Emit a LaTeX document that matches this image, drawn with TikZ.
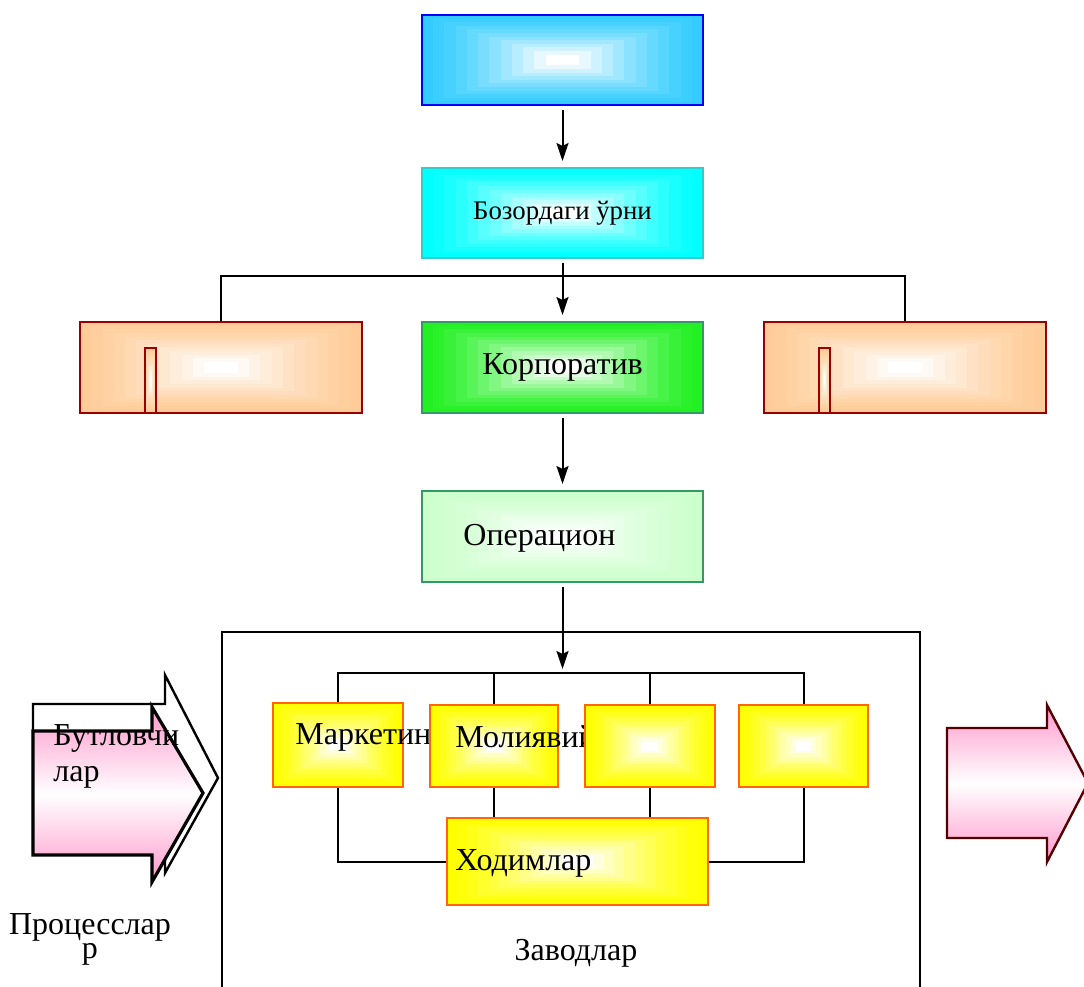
\documentclass[tikz,border=0pt]{standalone}
\usepackage{fontspec}
\setmainfont{Liberation Serif}
\usetikzlibrary{calc,arrows.meta}

\definecolor{skyfill}{HTML}{33CCFF}
\definecolor{cyanfill}{HTML}{00FFFF}
\definecolor{cyanline}{HTML}{33CCCC}
\definecolor{peach}{HTML}{FFCC99}
\definecolor{brick}{HTML}{990000}
\definecolor{limefill}{HTML}{22F022}
\definecolor{mintfill}{HTML}{CCFFCC}
\definecolor{greenline}{HTML}{339966}
\definecolor{sunfill}{HTML}{FFFF00}
\definecolor{sunline}{HTML}{FF6600}
\definecolor{rose}{HTML}{FF99CC}
\definecolor{wine}{HTML}{550000}

\tikzset{
  glow/.style={fill=#1, path picture={
      \foreach \k in {1,...,11}{
        \pgfmathtruncatemacro{\mix}{100-100*(\k/11)^1.4}
        \fill[#1!\mix!white]
          ($(path picture bounding box.south west)!{0.04*\k}!(path picture bounding box.north east)$)
          rectangle
          ($(path picture bounding box.north east)!{0.04*\k}!(path picture bounding box.south west)$);
      }}},
  box/.style={draw, line width=1pt, inner sep=0pt},
  link/.style={line width=1pt},
  arr/.style={link, shorten <=2pt, shorten >=3pt,
    -{Stealth[length=9pt,width=6pt,inset=1.5pt]}},
  big/.style={font=\fontsize{16}{18}\selectfont, inner sep=0pt},
}

\begin{document}
\begin{tikzpicture}[x=0.5pt,y=-0.5pt]
  \useasboundingbox (0,0) rectangle (1084,987);

  \node[box, draw=blue, glow=skyfill, minimum width=140.5pt, minimum height=45pt] (top) at (562.5,60) {};
  \node[box, draw=cyanline, glow=cyanfill, minimum width=140.5pt, minimum height=45pt,
    font=\fontsize{13.4}{15}\selectfont] (place) at (562.5,213) {Бозордаги ўрни};
  \node[box, draw=brick, glow=peach, minimum width=141pt, minimum height=45.5pt] (lbox) at (221,367.5) {};
  \node[box, draw=brick, glow=peach, minimum width=5.5pt, minimum height=32.5pt] (lmark) at (150.5,380.5) {};
  \node[box, draw=brick, glow=peach, minimum width=141pt, minimum height=45.5pt] (rbox) at (905,367.5) {};
  \node[box, draw=brick, glow=peach, minimum width=5.5pt, minimum height=32.5pt] (rmark) at (824.5,380.5) {};
  \node[box, draw=greenline, glow=limefill, minimum width=140.5pt, minimum height=45.5pt, big] (corp) at (562.5,367.5) {Корпоратив};
  \node[box, draw=greenline, glow=mintfill, minimum width=140.5pt, minimum height=45.5pt] (oper) at (562.5,536.5) {};
  \node[big, anchor=west] (opertxt) at (463,538) {Операцион};

  \coordinate (bus) at (562.5,276);
  \draw[arr] (top) -- (place);
  \draw[arr] (place) -- (corp);
  \draw[link] (lbox.north) -- (lbox.north |- bus) -- (rbox.north |- bus) -- (rbox.north);
  \draw[arr] (corp) -- (oper);

  \node[draw, line width=1pt, minimum width=349pt, minimum height=204pt] (plant) at (571,836) {};
  \node[font=\fontsize{16}{18}\selectfont] (planttxt) at (576,953) {Заводлар};

  \node[box, draw=sunline, glow=sunfill, minimum width=65pt, minimum height=42pt] (mark) at (338,745) {};
  \node[big, anchor=west] (marktxt) at (295,737) {Маркетин};
  \node[box, draw=sunline, glow=sunfill, minimum width=64pt, minimum height=41pt] (fin) at (494,746) {};
  \node[big, anchor=west] (fintxt) at (455,737) {Молиявий};
  \node[box, draw=sunline, glow=sunfill, minimum width=65pt, minimum height=41pt] (tech) at (650,746) {};
  \node[box, draw=sunline, glow=sunfill, minimum width=64.5pt, minimum height=41pt] (sale) at (803.5,746) {};
  \node[box, draw=sunline, glow=sunfill, minimum width=130.5pt, minimum height=43.5pt] (staff) at (577.5,861.5) {};
  \node[big, anchor=west] (stafftxt) at (455,863) {Ходимлар};

  \coordinate (hub) at (562.5,673);
  \draw[arr, shorten >=2pt] (oper) -- (hub);
  \draw[link] (mark.north) -- (mark.north |- hub) -- (sale.north |- hub) -- (sale.north);
  \draw[link] (fin.north) -- (fin.north |- hub);
  \draw[link] (tech.north) -- (tech.north |- hub);
  \draw[link] (mark.south) |- (staff.west);
  \draw[link] (sale.south) |- (staff.east);
  \draw[link] (fin.south) -- (fin.south |- staff.north);
  \draw[link] (tech.south) -- (tech.south |- staff.north);

  \draw[line width=1.2pt, fill=white] (33,704) -- (165,704) -- (165,675) -- (218,778)
    -- (165,873) -- (165,850) -- (33,850) -- cycle;
  \shadedraw[top color=rose, bottom color=rose, middle color=white, line width=1.6pt]
    (33,731) -- (152,731) -- (152,707) -- (203,793) -- (152,882) -- (152,855) -- (33,855) -- cycle;
  \node[big, anchor=west, align=left] (supl) at (53,756) {Бутловчи\\лар};
  \node[font=\fontsize{16}{6}\selectfont, align=center, inner sep=0pt] (proc) at (90,939) {Процесслар\\р};

  \shadedraw[top color=rose, bottom color=rose, middle color=white, draw=wine, line width=1.2pt]
    (947,728) -- (1047,728) -- (1047,705) -- (1088,783) -- (1047,862) -- (1047,838) -- (947,838) -- cycle;
\end{tikzpicture}
\end{document}
